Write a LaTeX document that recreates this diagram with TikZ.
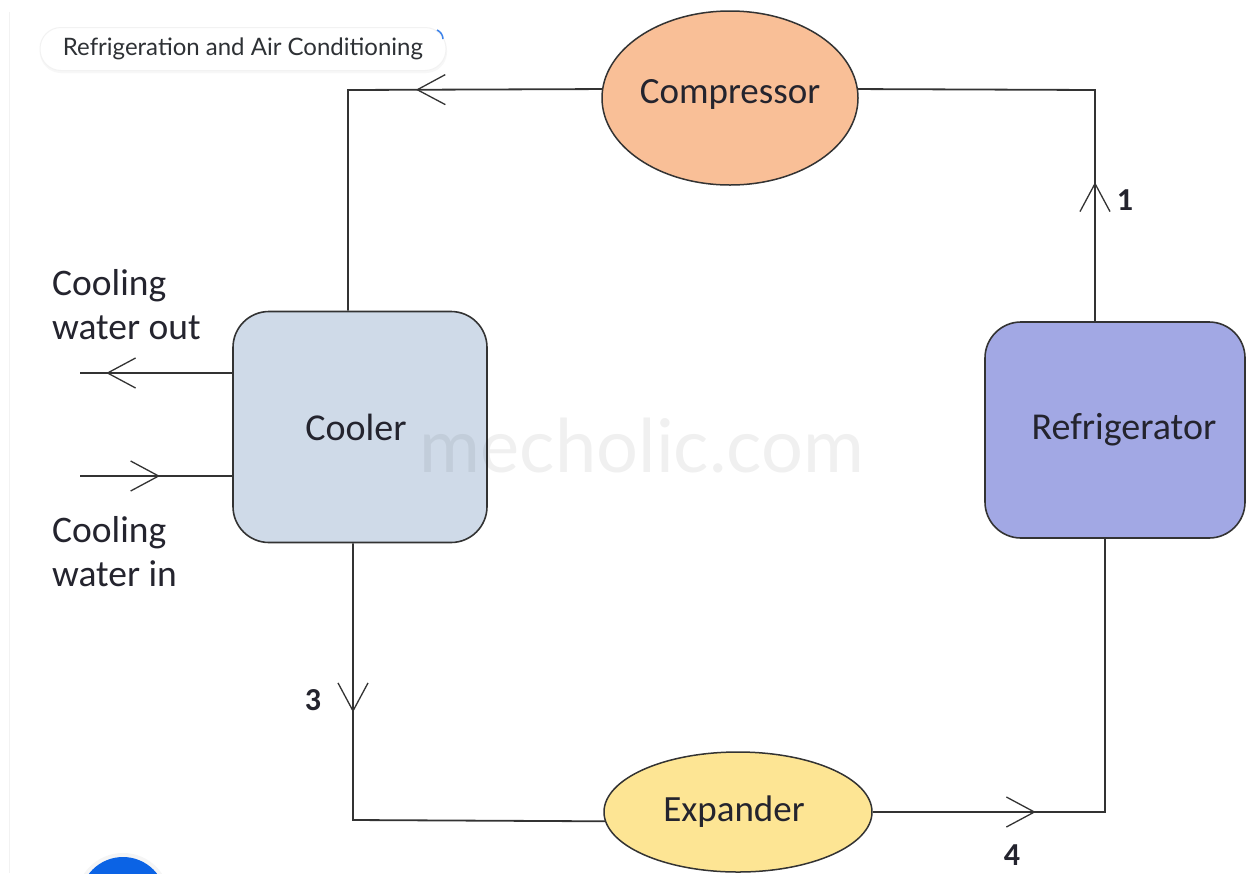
\documentclass[tikz,border=0pt]{standalone}
\usepackage{fontspec}
\setmainfont{Carlito}
\newfontfamily\pillfont{Lato}
\newfontfamily\wmfont{Lato}
\usetikzlibrary{shapes.geometric,arrows.meta,decorations.markings}
\definecolor{compfill}{HTML}{F9BF97}
\definecolor{coolfill}{HTML}{CFDAE8}
\definecolor{refrfill}{HTML}{A2A8E4}
\definecolor{expfill}{HTML}{FDE594}
\definecolor{txt}{HTML}{24242E}
\definecolor{pilltxt}{HTML}{2E3135}
\definecolor{uiblue}{HTML}{0B63E5}
\tikzset{
  chev/.tip={Straight Barb[length=28pt,width=30pt,line width=1.3pt]},
  flow/.style={draw=black!80, line width=1.8pt},
  markarrow/.style={postaction={decorate}, decoration={markings, mark=at position #1 with {\arrow{chev}}}},
  unitbox/.style={rectangle, rounded corners=36pt, inner sep=0pt, draw=black!80, line width=1.6pt,
    font=\fontsize{38}{44}\selectfont, text=txt},
  oval/.style={ellipse, inner sep=0pt, draw=black!80, line width=1.5pt,
    font=\fontsize{37}{44}\selectfont, text=txt},
  lbl/.style={inner sep=0pt, align=left, font=\fontsize{37.5}{44}\selectfont, text=txt},
  num/.style={inner sep=0pt, font=\fontsize{32}{36}\selectfont\bfseries, text=txt},
  pill/.style={rectangle, rounded corners=21pt, minimum width=406pt, minimum height=43pt, inner sep=0pt,
    fill=white, draw=black!5, line width=1pt, font=\pillfont\fontsize{24}{26}\selectfont, text=pilltxt},
  wm/.style={inner sep=0pt, font=\wmfont\fontsize{74}{80}\selectfont, text=black, text opacity=0.06}
}
\begin{document}
\begin{tikzpicture}[x=1pt,y=-1pt]
\useasboundingbox (0,0) rectangle (1247,873);
\clip (0,0) rectangle (1247,873);
\fill[white] (0,0) rectangle (1247,873);
\draw[black!5, line width=1pt] (9,12) -- (9,873);

% title pill
\fill[black!3, rounded corners=21pt] (40,30) rectangle (447,73);
\node[pill] (title) at (243,49) {Refrigeration and Air Conditioning};
\draw[uiblue!80, line width=1.5pt] (437,30) to[bend left=30] (443,39);

% components
\node[oval, fill=compfill, minimum width=256pt, minimum height=174pt] (comp) at (730,98) {\raisebox{13pt}{Compressor}};
\node[unitbox, fill=coolfill, minimum width=254pt, minimum height=231pt] (cooler) at (360,427) {\hspace*{-8pt}Cooler};
\node[unitbox, fill=refrfill, minimum width=260pt, minimum height=216pt] (refr) at (1115,430) {\hspace*{18pt}Refrigerator};
\node[oval, fill=expfill, minimum width=268pt, minimum height=120pt] (exp) at (738,812) {\hspace*{-8pt}\raisebox{2pt}{Expander}};

% connectors
\coordinate (tl) at (348,90);
\coordinate (tr) at (1095,90);
\coordinate (bl) at (353,820);
\coordinate (br) at (1105,812);
\coordinate (wo) at (80,373);
\coordinate (wi) at (80,476);
\draw[flow, markarrow=186pt] (comp.176) -- (tl) -- (tl |- cooler.north);
\draw[flow, markarrow=139pt] (refr.north -| tr) -- (tr) -- (comp.4);
\draw[flow, markarrow=169pt] (cooler.south -| bl) -- (bl) -- (exp.184);
\draw[flow, markarrow=163pt] (exp.east) -- (br) -- (refr.south -| br);
\draw[flow, markarrow=126pt] (cooler.west |- wo) -- (wo);
\draw[flow, markarrow=80pt] (wi) -- (cooler.west |- wi);

% labels
\node[lbl, anchor=north west] (cwo) at (52,269) {Cooling\\water out};
\node[lbl, anchor=north west] (cwi) at (52,516) {Cooling\\water in};
\node[num] (n1) at (1125,200) {1};
\node[num] (n3) at (313,700) {3};
\node[num] (n4) at (1012,855) {4};

% watermark
\node[wm, anchor=base] (mark) at (642,472) {mecholic.com};

% ui circle
\fill[black!4] (123,900) circle (47);
\fill[uiblue] (123,900) circle (43);
\end{tikzpicture}
\end{document}
